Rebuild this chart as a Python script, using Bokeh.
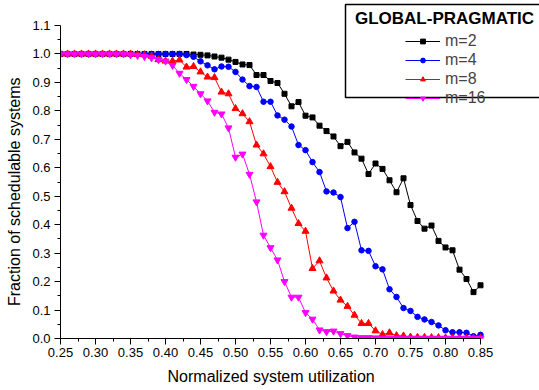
from bokeh.plotting import figure
from bokeh.models import (Range1d, FixedTicker, NumeralTickFormatter, Legend, LegendItem,
                          BoxAnnotation, Label)
from bokeh.embed import file_html
from bokeh.resources import INLINE

# ---------------- data ----------------
utilization = [0.25, 0.26, 0.27, 0.28, 0.29, 0.30, 0.31, 0.32, 0.33, 0.34,
               0.35, 0.36, 0.37, 0.38, 0.39, 0.40, 0.41, 0.42, 0.43, 0.44,
               0.45, 0.46, 0.47, 0.48, 0.49, 0.50, 0.51, 0.52, 0.53, 0.54,
               0.55, 0.56, 0.57, 0.58, 0.59, 0.60, 0.61, 0.62, 0.63, 0.64,
               0.65, 0.66, 0.67, 0.68, 0.69, 0.70, 0.71, 0.72, 0.73, 0.74,
               0.75, 0.76, 0.77, 0.78, 0.79, 0.80, 0.81, 0.82, 0.83, 0.84,
               0.85]

m2 = [1.0, 1.0, 1.0, 1.0, 1.0, 1.0, 1.0, 1.0, 1.0, 1.0,
      1.0, 1.0, 1.0, 1.0, 1.0, 1.0, 1.0, 1.0, 1.0, 0.998,
      0.997, 0.995, 0.991, 0.987, 0.980, 0.972, 0.963, 0.961, 0.926, 0.926,
      0.905, 0.898, 0.860, 0.816, 0.831, 0.783, 0.777, 0.748, 0.729, 0.710,
      0.676, 0.691, 0.654, 0.632, 0.578, 0.615, 0.596, 0.556, 0.514, 0.563,
      0.469, 0.413, 0.386, 0.397, 0.343, 0.320, 0.310, 0.242, 0.209, 0.163,
      0.187]

m4 = [1.0, 1.0, 1.0, 1.0, 1.0, 1.0, 1.0, 1.0, 1.0, 1.0,
      1.0, 1.0, 1.0, 1.0, 1.0, 1.0, 1.0, 1.0, 0.996, 0.990,
      0.974, 0.960, 0.946, 0.956, 0.955, 0.937, 0.910, 0.887, 0.884, 0.832,
      0.832, 0.784, 0.769, 0.745, 0.680, 0.662, 0.620, 0.585, 0.517, 0.513,
      0.497, 0.388, 0.410, 0.310, 0.308, 0.254, 0.243, 0.173, 0.146, 0.107,
      0.097, 0.076, 0.067, 0.058, 0.046, 0.029, 0.022, 0.022, 0.020, 0.008,
      0.013]

m8 = [1.0, 1.0, 1.0, 1.0, 1.0, 1.0, 1.0, 1.0, 1.0, 1.0,
      1.0, 0.998, 0.997, 0.992, 0.980, 0.975, 0.975, 0.979, 0.954, 0.956,
      0.937, 0.919, 0.917, 0.866, 0.860, 0.808, 0.790, 0.762, 0.680, 0.649,
      0.604, 0.549, 0.516, 0.458, 0.404, 0.377, 0.246, 0.273, 0.213, 0.167,
      0.135, 0.113, 0.082, 0.053, 0.053, 0.027, 0.014, 0.020, 0.010, 0.009,
      0.005, 0.004, 0.004, 0.003, 0.003, 0.002, 0.002, 0.002, 0.001, 0.001,
      0.001]

m16 = [1.0, 1.0, 1.0, 1.0, 1.0, 1.0, 1.0, 1.0, 1.0, 1.0,
       0.997, 0.995, 0.991, 0.987, 0.980, 0.975, 0.960, 0.932, 0.910, 0.886,
       0.860, 0.835, 0.795, 0.789, 0.740, 0.637, 0.648, 0.577, 0.480, 0.363,
       0.319, 0.276, 0.200, 0.145, 0.145, 0.091, 0.068, 0.030, 0.024, 0.026,
       0.017, 0.010, 0.005, 0.003, 0.003, 0.002, 0.001, 0.001, 0.001, 0.001,
       0.001, 0.001, 0.001, 0.001, 0.001, 0.001, 0.001, 0.001, 0.001, 0.001,
       0.001]

series_labels = ["m=2", "m=4", "m=8", "m=16"]
legend_title = "GLOBAL-PRAGMATIC"
x_label = "Normalized system utilization"
y_label = "Fraction of schedulable systems"

x_ticks = [0.25, 0.30, 0.35, 0.40, 0.45, 0.50, 0.55, 0.60, 0.65, 0.70, 0.75, 0.80, 0.85]
x_minor_ticks = [0.275, 0.325, 0.375, 0.425, 0.475, 0.525, 0.575, 0.625, 0.675,
                 0.725, 0.775, 0.825]
y_ticks = [0.0, 0.1, 0.2, 0.3, 0.4, 0.5, 0.6, 0.7, 0.8, 0.9, 1.0, 1.1]
y_minor_ticks = [0.05, 0.15, 0.25, 0.35, 0.45, 0.55, 0.65, 0.75, 0.85, 0.95, 1.05]
x_axis_extent = (0.25, 0.85)
y_axis_extent = (0.0, 1.1)

# ---------------- layout / styles ----------------
W, H = 539, 390
FRAME_LEFT, FRAME_BOTTOM = 60, 52          # px borders
X_PX_PER_UNIT = 700.0                       # 0.6 units over 420 px
Y_PX_PER_UNIT = 313.0 / 1.1                 # 1.1 units over 313 px
x_end = x_axis_extent[0] + (W - FRAME_LEFT) / X_PX_PER_UNIT
y_end = (H - FRAME_BOTTOM) / Y_PX_PER_UNIT

# the frame is widened to hold the legend box, so the axis titles are
# re-centred on the drawn axis extent with trailing no-break spaces
NBSP = "\u00a0"
x_label_shown = x_label + NBSP * 13
y_label_shown = y_label + NBSP * 10

FONT = "Liberation Sans"
colors = ["#000000", "#0000ff", "#ff0000", "#ff00ff"]
markers = ["square", "circle", "triangle", "inverted_triangle"]
marker_sizes = [5, 5.5, 7, 7]

p = figure(width=W, height=H, output_backend="svg", toolbar_location=None,
           title=None,
           x_range=Range1d(x_axis_extent[0], x_end), y_range=Range1d(y_axis_extent[0], y_end),
           min_border_left=FRAME_LEFT, min_border_right=0, min_border_top=0,
           min_border_bottom=FRAME_BOTTOM,
           x_axis_label=x_label_shown, y_axis_label=y_label_shown)

p.xgrid.visible = False
p.ygrid.visible = False
p.outline_line_color = None
p.background_fill_color = "white"
p.border_fill_color = "white"

p.xaxis.ticker = FixedTicker(ticks=x_ticks, minor_ticks=x_minor_ticks)
p.yaxis.ticker = FixedTicker(ticks=y_ticks, minor_ticks=y_minor_ticks)
p.xaxis.formatter = NumeralTickFormatter(format="0.00")
p.yaxis.formatter = NumeralTickFormatter(format="0.0")
p.xaxis.bounds = x_axis_extent
p.yaxis.bounds = y_axis_extent

for ax in (p.xaxis[0], p.yaxis[0]):
    ax.axis_line_color = "black"
    ax.axis_line_width = 1
    ax.major_tick_line_color = "black"
    ax.minor_tick_line_color = "black"
    ax.major_tick_in = 0
    ax.major_tick_out = 6
    ax.minor_tick_in = 0
    ax.minor_tick_out = 3
    ax.major_label_text_font = FONT
    ax.major_label_text_font_size = "13px"
    ax.major_label_text_color = "black"
    ax.axis_label_text_font = FONT
    ax.axis_label_text_font_size = "16px"
    ax.axis_label_text_font_style = "normal"
    ax.axis_label_text_color = "black"

p.xaxis.major_label_standoff = 3
p.xaxis.axis_label_standoff = 8
p.yaxis.major_label_standoff = 4
p.yaxis.axis_label_standoff = 6

items = []
for ys, col, mk, sz, lab in zip([m2, m4, m8, m16], colors, markers, marker_sizes, series_labels):
    ln = p.line(utilization, ys, line_color=col, line_width=1)
    sc = p.scatter(utilization, ys, marker=mk, size=sz, fill_color=col, line_color=col)
    items.append(LegendItem(label=lab, renderers=[ln, sc]))

legend = Legend(items=items, location=(345, 231),
                border_line_color=None, background_fill_alpha=0,
                padding=0, margin=0, spacing=0,
                label_height=19, glyph_height=12, glyph_width=35,
                label_standoff=5,
                label_text_font=FONT, label_text_font_size="16px")
p.add_layout(legend)

box = BoxAnnotation(left=345, right=560, top=4, bottom=97,
                    left_units="canvas", right_units="canvas",
                    top_units="canvas", bottom_units="canvas",
                    fill_alpha=0, line_color="black", line_width=1.5, line_alpha=1)
p.add_layout(box)

title_lbl = Label(x=444, y=18, x_units="canvas", y_units="canvas",
                  text=legend_title, text_font=FONT, text_font_size="17px",
                  text_font_style="bold", text_align="center", text_baseline="middle",
                  text_color="black")
p.add_layout(title_lbl)

open("out.html", "w").write(file_html(p, INLINE))
